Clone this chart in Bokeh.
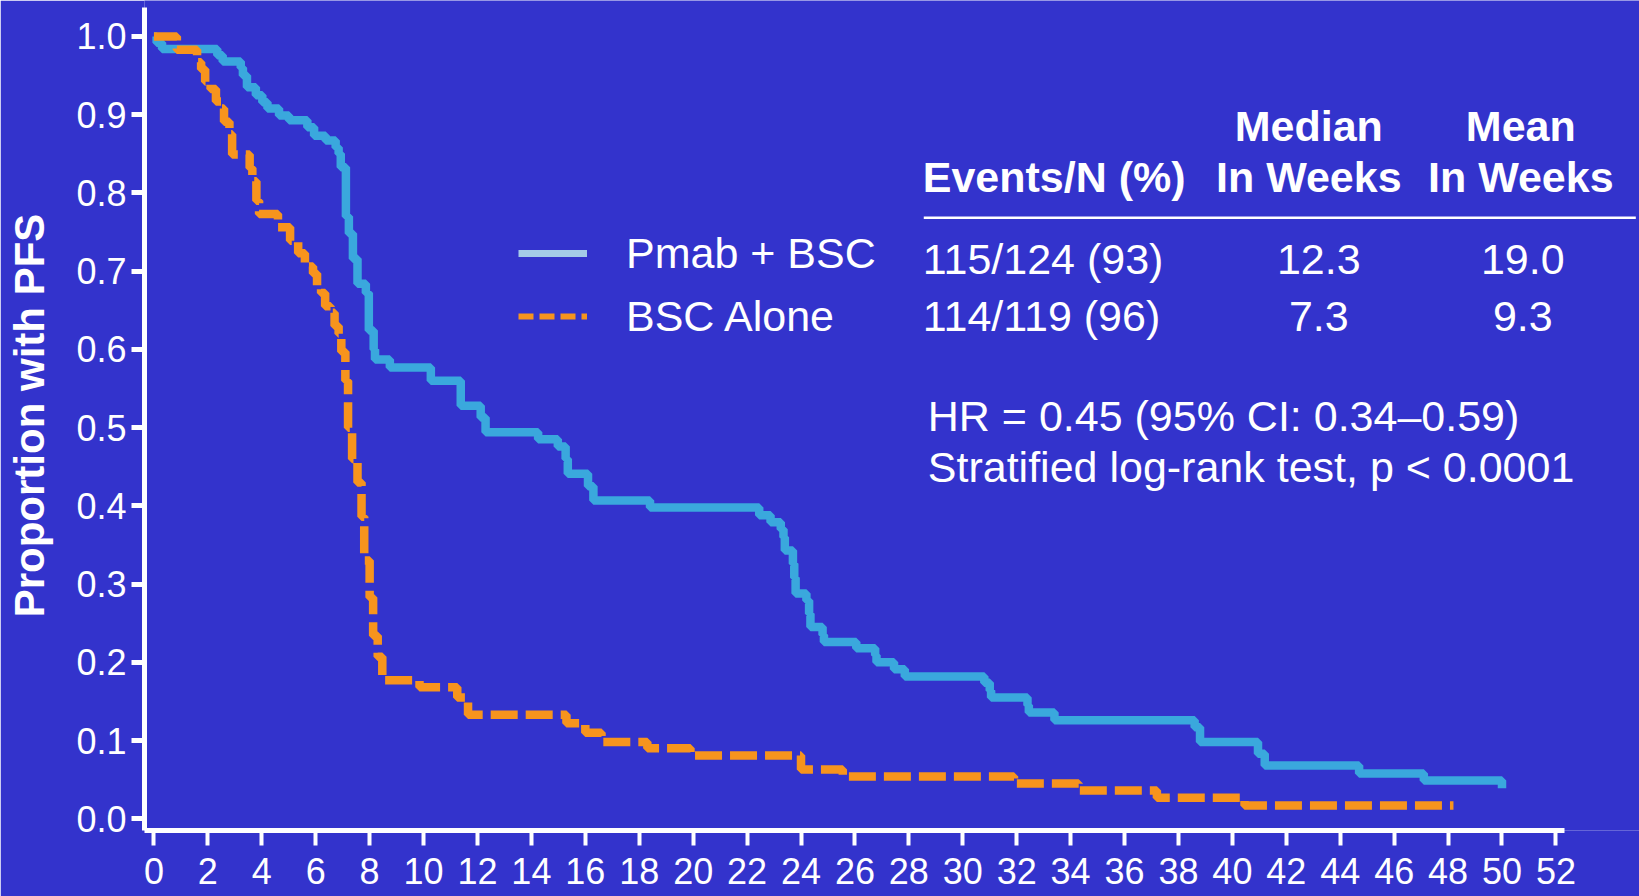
import numpy as np
from bokeh.plotting import figure
from bokeh.models import (FixedTicker, Label, Legend, LegendItem, BoxAnnotation,
                          PrintfTickFormatter, Range1d)
from bokeh.embed import file_html
from bokeh.resources import INLINE

# ---------------- data ----------------
series_names = ["Pmab + BSC", "BSC Alone"]

weeks_pmab = [0, 0.1, 0.3, 2.35, 2.55, 3.22, 3.3, 3.45, 3.78, 4.02,
              4.21, 4.64, 5.01, 5.69, 5.94, 6.37, 6.74, 6.85, 6.93, 7.12,
              7.23, 7.38, 7.55, 7.86, 7.97, 8.15, 8.2, 8.75, 10.27, 11.38,
              12.12, 12.3, 14.25, 14.98, 15.27, 15.35, 16.1, 16.3, 18.4, 22.45,
              22.87, 23.25, 23.35, 23.4, 23.7, 23.75, 23.8, 24.2, 24.3, 24.35,
              24.8, 24.85, 26.05, 26.75, 26.8, 27.45, 27.85, 30.8, 31.0, 31.05,
              32.4, 32.45, 33.4, 38.6, 38.8, 40.95, 41.2, 44.7, 47.1, 50.0]
surv_pmab = [1.0, 0.992, 0.984, 0.976, 0.968, 0.96, 0.95, 0.935, 0.925, 0.916,
             0.908, 0.899, 0.893, 0.884, 0.873, 0.867, 0.858, 0.85, 0.833, 0.77,
             0.748, 0.716, 0.684, 0.672, 0.624, 0.6, 0.587, 0.577, 0.56, 0.528,
             0.513, 0.494, 0.485, 0.476, 0.46, 0.441, 0.425, 0.407, 0.398, 0.388,
             0.379, 0.37, 0.36, 0.343, 0.326, 0.308, 0.288, 0.279, 0.262, 0.245,
             0.235, 0.226, 0.218, 0.209, 0.2, 0.191, 0.182, 0.174, 0.164, 0.155,
             0.145, 0.136, 0.126, 0.117, 0.098, 0.083, 0.068, 0.058, 0.049, 0.039]

weeks_bsc = [0, 0.85, 1.6, 1.75, 1.9, 2.1, 2.3, 2.5, 2.6, 2.8,
             2.9, 3.55, 3.65, 3.8, 3.9, 4.6, 5.05, 5.35, 5.6, 5.9,
             6.05, 6.2, 6.35, 6.55, 6.7, 6.85, 6.95, 7.1, 7.2, 7.35,
             7.55, 7.7, 7.8, 8.0, 8.13, 8.3, 8.47, 9.85, 11.25, 11.65,
             15.3, 16.0, 16.6, 18.3, 19.9, 24.0, 25.55, 31.9, 34.3, 37.2,
             40.45, 48.2]
surv_bsc = [1.0, 0.983, 0.967, 0.958, 0.942, 0.933, 0.917, 0.908, 0.891, 0.875,
            0.849, 0.832, 0.815, 0.79, 0.773, 0.756, 0.739, 0.723, 0.706, 0.697,
            0.681, 0.672, 0.655, 0.647, 0.63, 0.62, 0.597, 0.56, 0.5, 0.46,
            0.43, 0.386, 0.33, 0.283, 0.234, 0.207, 0.177, 0.168, 0.155, 0.133,
            0.122, 0.11, 0.098, 0.09, 0.081, 0.063, 0.054, 0.045, 0.036, 0.027,
            0.017, 0.017]

x_ticks = list(range(0, 53, 2))
y_ticks = [0.0, 0.1, 0.2, 0.3, 0.4, 0.5, 0.6, 0.7, 0.8, 0.9, 1.0]

header_top = ["Median", "Mean"]
header_bottom = ["Events/N (%)", "In Weeks", "In Weeks"]
events = ["115/124 (93)", "114/119 (96)"]
medians = ["12.3", "7.3"]
means = ["19.0", "9.3"]
hr_text = "HR = 0.45 (95% CI: 0.34\u20130.59)"
logrank_text = "Stratified log-rank test, p < 0.0001"

# ---------------- style ----------------
BG = "#3333CC"
BLUE = "#3AA8DD"
ORANGE = "#F7941D"
LEGEND_BLUE = "#A4CBE8"
FONT = "Liberation Sans"
W, H = 1639, 896

p = figure(width=W, height=H, output_backend="svg", toolbar_location=None,
           title=None,
           x_range=Range1d(-0.35, 55.10), y_range=Range1d(-0.015, 1.046),
           min_border_left=144, min_border_right=0, min_border_top=0,
           min_border_bottom=66,
           background_fill_color=BG, border_fill_color=BG, outline_line_color=None)
p.grid.visible = False

for ax in (p.xaxis[0], p.yaxis[0]):
    ax.axis_line_color = "white"
    ax.axis_line_width = 5
    ax.major_tick_line_color = "white"
    ax.minor_tick_line_color = None
    ax.major_tick_in = 0
    ax.major_label_text_color = "white"
    ax.major_label_text_font = FONT
    ax.major_label_text_font_size = "36px"

p.xaxis.ticker = FixedTicker(ticks=x_ticks)
p.xaxis.bounds = (-0.35, 52.32)
p.xaxis.major_tick_out = 15
p.xaxis.major_tick_line_width = 4
p.xaxis.major_label_standoff = 12

p.yaxis.ticker = FixedTicker(ticks=y_ticks)
p.yaxis.bounds = (-0.015, 1.037)
p.yaxis.formatter = PrintfTickFormatter(format="%.1f")
p.yaxis.major_tick_out = 13
p.yaxis.major_tick_line_width = 5
p.yaxis.major_label_standoff = 5
p.yaxis.axis_label = "Proportion with PFS"
p.yaxis.axis_label_text_color = "white"
p.yaxis.axis_label_text_font = FONT
p.yaxis.axis_label_text_font_style = "bold"
p.yaxis.axis_label_text_font_size = "42px"
p.yaxis.axis_label_standoff = 20

# ---------------- curves ----------------
p.step(weeks_pmab, surv_pmab, mode="after", line_color=BLUE, line_width=8.5)
p.step(weeks_bsc, surv_bsc, mode="after", line_color=ORANGE, line_width=8.5,
       line_dash="27 8")

# ---------------- legend (samples only, no data drawn) ----------------
nan = np.array([np.nan])
r1 = p.line(nan, nan, line_color=LEGEND_BLUE, line_width=7)
r2 = p.line(nan, nan, line_color=ORANGE, line_width=6, line_dash="15 6")
legend = Legend(items=[LegendItem(label=series_names[0], renderers=[r1]),
                       LegendItem(label=series_names[1], renderers=[r2])],
                location=(374, 489), orientation="vertical",
                glyph_width=69, glyph_height=50, label_height=50,
                label_standoff=39, spacing=13, padding=0, margin=0,
                border_line_color=None, background_fill_alpha=0,
                label_text_color="white", label_text_font=FONT,
                label_text_font_size="43px")
p.add_layout(legend)


# ---------------- table / annotations (page pixel -> data coords) ----------------
def wk(px):
    return (px - 153.2) / 26.96


def pv(py):
    return (818.3 - py) / 782.3


def add_text(txt, px, py, align="left", bold=False):
    p.add_layout(Label(x=wk(px), y=pv(py - 12), text=txt, text_align=align,
                       text_baseline="alphabetic", text_color="white",
                       text_font=FONT, text_font_size="43px",
                       text_font_style="bold" if bold else "normal"))


col_events, col_median, col_mean = 922, 1308, 1520
add_text(header_top[0], col_median, 138, "center", True)
add_text(header_top[1], col_mean, 138, "center", True)
add_text(header_bottom[0], col_events, 189, "left", True)
add_text(header_bottom[1], col_median, 189, "center", True)
add_text(header_bottom[2], col_mean, 189, "center", True)
for i, by in enumerate([271, 328]):
    add_text(events[i], col_events, by, "left")
    add_text(medians[i], 1318, by, "center")
    add_text(means[i], 1522, by, "center")
add_text(hr_text, 927, 428, "left")
add_text(logrank_text, 927, 479, "left")

p.add_layout(BoxAnnotation(left=wk(923), right=wk(1635), top=pv(216), bottom=pv(218.5),
                           fill_color="white", fill_alpha=1, line_color=None))

open("out.html", "w").write(file_html(p, INLINE))
